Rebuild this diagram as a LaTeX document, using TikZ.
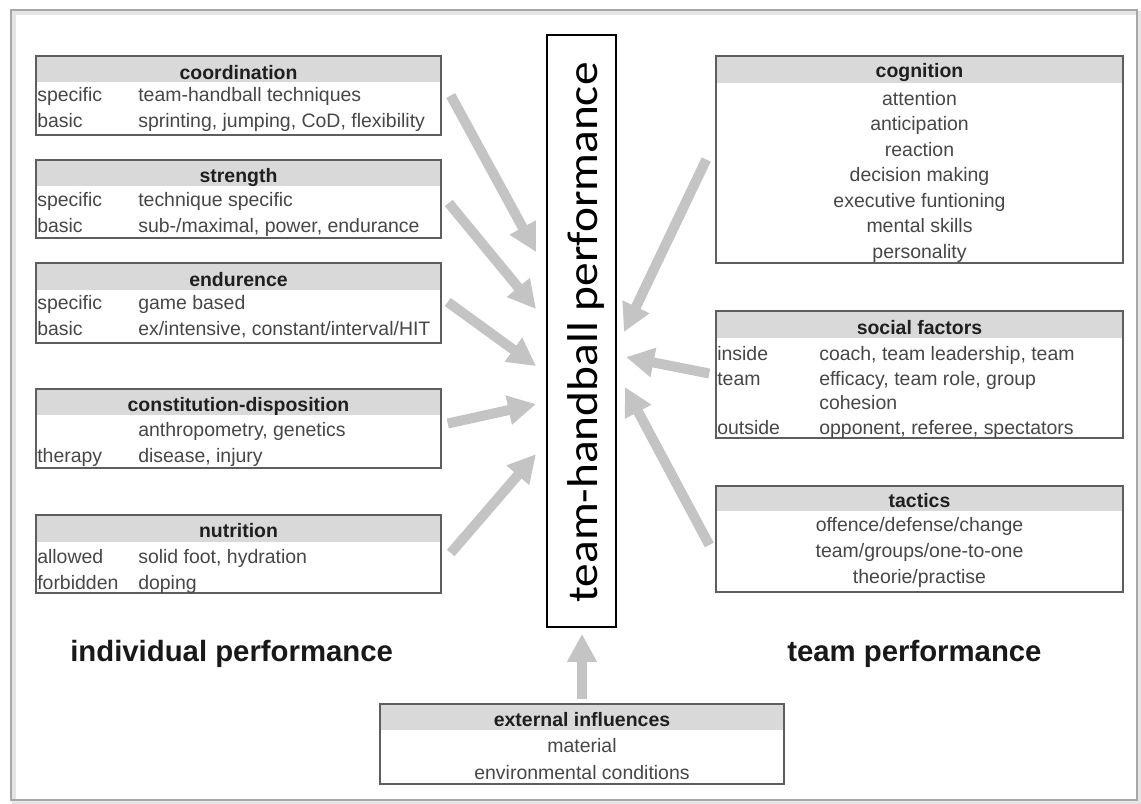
\documentclass[tikz,border=0pt]{standalone}
\usepackage{fontspec}
\usepackage{graphicx}
\setmainfont{Liberation Sans}
\newfontfamily\carlfont{Carlito}
\usetikzlibrary{arrows.meta,fit}
\definecolor{hdr}{HTML}{D9D9D9}
\definecolor{boxline}{HTML}{5E5E5E}
\definecolor{arr}{HTML}{C4C4C4}
\definecolor{bodytxt}{HTML}{474747}
\definecolor{frameline}{HTML}{A8A8A8}
\tikzset{
  panel/.style={draw=boxline, line width=1.1pt, inner sep=0pt, fit={#1}},
  body/.style={inner sep=0pt, text=bodytxt, font=\fontsize{14.6pt}{17pt}\selectfont},
  head/.style={inner sep=0pt, text=black!88, anchor=base, font=\bfseries\fontsize{14.6pt}{17pt}\selectfont},
  bigarr/.style={draw=arr, line width=7.5pt, -{Triangle[length=21pt,width=21pt]}},
  biglabel/.style={inner sep=0pt, anchor=base west, text=black!90, font=\bfseries\fontsize{22pt}{26pt}\selectfont}
}
\begin{document}
\begin{tikzpicture}[x=0.75pt,y=-0.75pt]
\useasboundingbox (0,0) rectangle (1141,803);
\fill[white] (0,0) rectangle (1141,803);
% outer frame with soft shadow
\draw[black!10, line width=3pt] (14,13) rectangle (1139,802);
\draw[frameline, line width=1.2pt] (11,10) rectangle (1137,800);

% header bands
\fill[hdr] (36,56) rectangle (441,82);
\fill[hdr] (36,160) rectangle (441,186);
\fill[hdr] (36,263) rectangle (441,290);
\fill[hdr] (36,389) rectangle (441,415);
\fill[hdr] (36,515) rectangle (441,542);
\fill[hdr] (716,56) rectangle (1123,83);
\fill[hdr] (716,311) rectangle (1123,338);
\fill[hdr] (716,486) rectangle (1123,511);
\fill[hdr] (380,704) rectangle (784,730);

% boxes
\node[panel={(36,56) (441,135)}] (coord) {};
\node[panel={(36,160) (441,238)}] (stren) {};
\node[panel={(36,263) (441,343)}] (endur) {};
\node[panel={(36,389) (441,468)}] (const) {};
\node[panel={(36,515) (441,593)}] (nutr) {};
\node[panel={(716,56) (1123,263)}] (cogn) {};
\node[panel={(716,311) (1123,438)}] (social) {};
\node[panel={(716,486) (1123,592)}] (tact) {};
\node[panel={(380,704) (784,784)}] (ext) {};
\node[draw=black, line width=1.4pt, inner sep=0pt, fit={(547,35) (616,627)}] (hp) {};

% central label
\node[rotate=90, anchor=base, inner sep=0pt, text=black, font=\carlfont\fontsize{32.3pt}{38pt}\selectfont] (hptext) at (597,332.5) {\scalebox{1.1}[1]{team-handball performance}};

% coordination
\node[head] (coordh) at (238.5,79) {coordination};
\node[body, anchor=base west] (coord1a) at (37,101) {specific};
\node[body, anchor=base west] (coord1b) at (138,101) {team-handball techniques};
\node[body, anchor=base west] (coord2a) at (37,127) {basic};
\node[body, anchor=base west] (coord2b) at (138,127) {sprinting, jumping, CoD, flexibility};
% strength
\node[head] (strenh) at (238.5,182) {strength};
\node[body, anchor=base west] (stren1a) at (37,206) {specific};
\node[body, anchor=base west] (stren1b) at (138,206) {technique specific};
\node[body, anchor=base west] (stren2a) at (37,232) {basic};
\node[body, anchor=base west] (stren2b) at (138,232) {sub-/maximal, power, endurance};
% endurence
\node[head] (endurh) at (238.5,286) {endurence};
\node[body, anchor=base west] (endur1a) at (37,309) {specific};
\node[body, anchor=base west] (endur1b) at (138,309) {game based};
\node[body, anchor=base west] (endur2a) at (37,335) {basic};
\node[body, anchor=base west] (endur2b) at (138,335) {ex/intensive, constant/interval/HIT};
% constitution
\node[head] (consth) at (238.5,411) {constitution-disposition};
\node[body, anchor=base west] (const1b) at (138,436) {anthropometry, genetics};
\node[body, anchor=base west] (const2a) at (37,462) {therapy};
\node[body, anchor=base west] (const2b) at (138,462) {disease, injury};
% nutrition
\node[head] (nutrh) at (238.5,537) {nutrition};
\node[body, anchor=base west] (nutr1a) at (37,563) {allowed};
\node[body, anchor=base west] (nutr1b) at (138,563) {solid foot, hydration};
\node[body, anchor=base west] (nutr2a) at (37,589) {forbidden};
\node[body, anchor=base west] (nutr2b) at (138,589) {doping};

% cognition
\node[head] (cognh) at (919.5,77) {cognition};
\node[body, anchor=base] (cogn1) at (919.5,105) {attention};
\node[body, anchor=base] (cogn2) at (919.5,130.5) {anticipation};
\node[body, anchor=base] (cogn3) at (919.5,156) {reaction};
\node[body, anchor=base] (cogn4) at (919.5,181.5) {decision making};
\node[body, anchor=base] (cogn5) at (919.5,207) {executive funtioning};
\node[body, anchor=base] (cogn6) at (919.5,232.5) {mental skills};
\node[body, anchor=base] (cogn7) at (919.5,258) {personality};
% social factors
\node[head] (socialh) at (919.5,334) {social factors};
\node[body, anchor=base west] (social1a) at (717,360) {inside};
\node[body, anchor=base west] (social1b) at (819,360) {coach, team leadership, team};
\node[body, anchor=base west] (social2a) at (717,385) {team};
\node[body, anchor=base west] (social2b) at (819,385) {efficacy, team role, group};
\node[body, anchor=base west] (social3b) at (819,409) {cohesion};
\node[body, anchor=base west] (social4a) at (717,434) {outside};
\node[body, anchor=base west] (social4b) at (819,434) {opponent, referee, spectators};
% tactics
\node[head] (tacth) at (919.5,507) {tactics};
\node[body, anchor=base] (tact1) at (919.5,531) {offence/defense/change};
\node[body, anchor=base] (tact2) at (919.5,557) {team/groups/one-to-one};
\node[body, anchor=base] (tact3) at (919.5,583) {theorie/practise};
% external
\node[head] (exth) at (582,726) {external influences};
\node[body, anchor=base] (ext1) at (582,752) {material};
\node[body, anchor=base] (ext2) at (582,779) {environmental conditions};

% group labels
\node[biglabel] (indiv) at (70,661) {individual performance};
\node[biglabel] (teamp) at (787,661) {team performance};

% arrows
\draw[bigarr] ([shift={(9,0)}]coord.east) -- ([shift={(-10,218)}]hp.north west);
\draw[bigarr] ([shift={(7,4)}]stren.east) -- ([shift={(-10,275)}]hp.north west);
\draw[bigarr] ([shift={(6,-1)}]endur.east) -- ([shift={(-10,332)}]hp.north west);
\draw[bigarr] ([shift={(6,-5)}]const.east) -- ([shift={(-10,370)}]hp.north west);
\draw[bigarr] ([shift={(9,-1)}]nutr.east) -- ([shift={(-10,420)}]hp.north west);
\draw[bigarr] ([shift={(-9,0)}]cogn.west) -- ([shift={(7,298)}]hp.north east);
\draw[bigarr] ([shift={(-6,-1)}]social.west) -- ([shift={(9,323)}]hp.north east);
\draw[bigarr] ([shift={(-6,6)}]tact.west) -- ([shift={(8,353)}]hp.north east);
\draw[bigarr] ([shift={(0,-4)}]ext.north) -- ([shift={(0.5,6)}]hp.south);
\end{tikzpicture}
\end{document}
